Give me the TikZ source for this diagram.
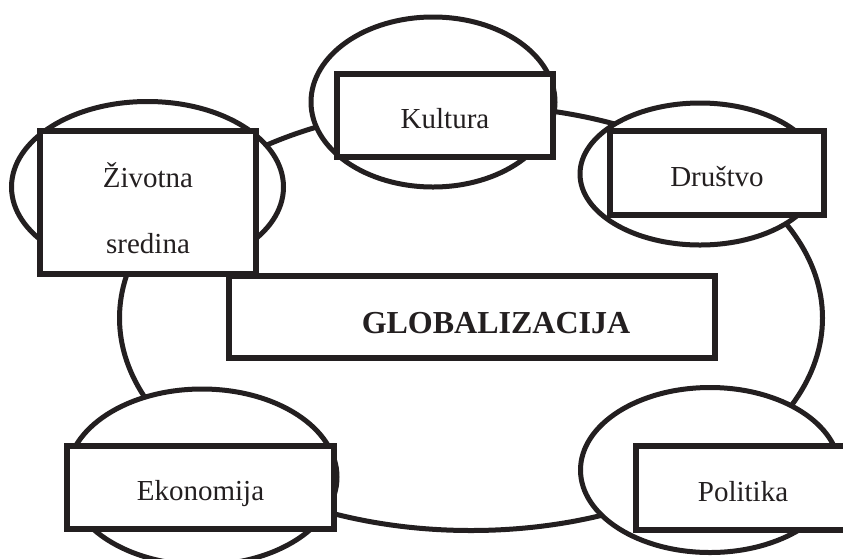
\documentclass[tikz,border=0pt]{standalone}
\usepackage{fontspec}
\setmainfont{Liberation Serif}
\usetikzlibrary{shapes.geometric}
\definecolor{ink}{RGB}{35,31,32}

\begin{document}
\begin{tikzpicture}[x=1pt, y=-1pt,
  oval/.style={ellipse, draw=ink, fill=white, line width=5pt, inner sep=0pt},
  box/.style={rectangle, draw=ink, fill=white, line width=6.5pt, inner sep=0pt,
    text=ink, font=\fontsize{29}{34}\selectfont, text height=26pt, text depth=0pt}]
\useasboundingbox (0,0) rectangle (843,558);

% big ring
\node[oval, minimum width=703pt, minimum height=425pt] (ring) at (471,318) {};

% small ovals
\node[oval, minimum width=244pt, minimum height=170pt] (kulturaOval) at (433,102) {};
\node[oval, minimum width=240pt, minimum height=142pt] (drustvoOval) at (700,174) {};
\node[oval, minimum width=272pt, minimum height=171pt] (zivotnaOval) at (147.5,187) {};
\node[oval, minimum width=270pt, minimum height=176pt] (ekonomijaOval) at (202,477) {};
\node[oval, minimum width=259pt, minimum height=165pt] (politikaOval) at (710,470) {};

% boxes
\node[box, minimum width=486pt, minimum height=82pt,
  label={[text=ink, xshift=24pt, font=\fontsize{32}{38}\selectfont\bfseries,
    text height=32pt, text depth=0pt]center:GLOBALIZACIJA}] (glob) at (472,317) {};
\node[box, minimum width=216pt, minimum height=83pt] (kultura) at (445,115.5) {Kultura};
\node[box, minimum width=214pt, minimum height=84pt] (drustvo) at (717,173) {Društvo};
\node[box, minimum width=216pt, minimum height=143pt, align=center,
  font=\fontsize{29}{66}\selectfont, text height=101pt, text depth=0pt] (zivotna) at (148,202.5) {Životna\\sredina};
\node[box, minimum width=267pt, minimum height=83pt] (ekonomija) at (200.5,487.5) {Ekonomija};
\node[box, minimum width=214pt, minimum height=84pt] (politika) at (743,488) {Politika};

\end{tikzpicture}
\end{document}
